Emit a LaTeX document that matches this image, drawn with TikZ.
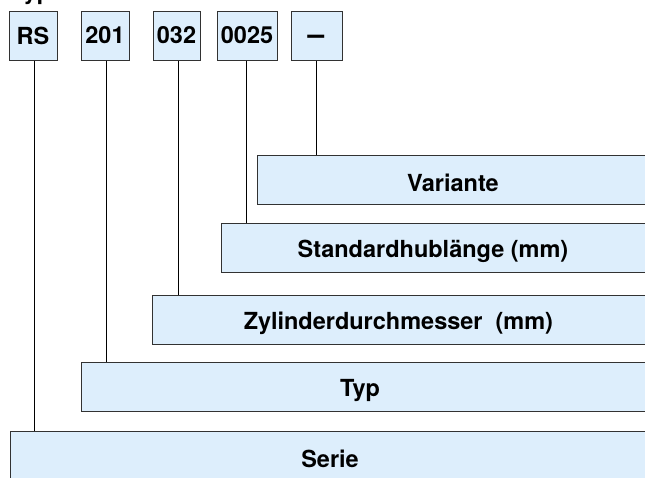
\documentclass[tikz,border=0pt]{standalone}
\usepackage{fontspec}
\setmainfont{TeX Gyre Heros}
\definecolor{boxfill}{RGB}{221,238,252}
\definecolor{boxline}{RGB}{50,50,50}
\begin{document}
\begin{tikzpicture}[x=1pt,y=-1pt,
  lbl/.style={font=\fontsize{23.5}{26}\selectfont\bfseries},
  codebox/.style={lbl,draw=boxline,fill=boxfill,line width=1pt,inner sep=0pt,minimum height=49pt},
  bar/.style={draw=boxline,fill=boxfill,line width=1pt,inner sep=0pt,minimum height=49pt},
  bartext/.style={lbl,inner sep=0pt},
  conn/.style={draw=black,line width=0.8pt}]
\useasboundingbox (0,0) rectangle (645,477);
\clip (0,0) rectangle (645,477);
\node[lbl,anchor=base west,inner sep=0pt] (title) at (11,-0.5) {Typ};
% top code boxes
\node[codebox,minimum width=48pt] (rs) at (33,35.5) {RS};
\node[codebox,minimum width=48pt] (t201) at (105,35.5) {201};
\node[codebox,minimum width=47pt] (t032) at (176.5,35.5) {032};
\node[codebox,minimum width=60pt] (t0025) at (247,35.5) {0025};
\node[codebox,minimum width=51pt] (var) at (316.5,36) {};
\node[lbl,inner sep=0pt,font=\fontsize{30}{30}\selectfont\bfseries] (vartxt) at (316,40) {–};
% bars
\node[bar,minimum width=392pt] (variante) at (453,179.5) {};
\node[bar,minimum width=428pt] (hub) at (435,248) {};
\node[bar,minimum width=497pt] (zyl) at (400.5,319.5) {};
\node[bar,minimum width=568pt] (typ) at (365,387) {};
\node[bar,minimum width=640pt,minimum height=60pt] (serie) at (330,461) {};
\node[bartext] (variantetxt) at (453,183) {Variante};
\node[bartext] (hubtxt) at (433,251.5) {Standardhublänge (mm)};
\node[bartext] (zyltxt) at (398.5,323) {Zylinderdurchmesser\ \ (mm)};
\node[bartext] (typtxt) at (360,391) {Typ};
\node[bartext] (serietxt) at (330,459) {Serie};
% connectors
\draw[conn] (rs.south -| 34,0) -- (34,0 |- serie.north);
\draw[conn] (t201.south -| 106,0) -- (106,0 |- typ.north);
\draw[conn] (t032.south -| 178,0) -- (178,0 |- zyl.north);
\draw[conn] (t0025.south -| 246,0) -- (246,0 |- hub.north);
\draw[conn] (var.south) -- (var.south |- variante.north);
\end{tikzpicture}
\end{document}
